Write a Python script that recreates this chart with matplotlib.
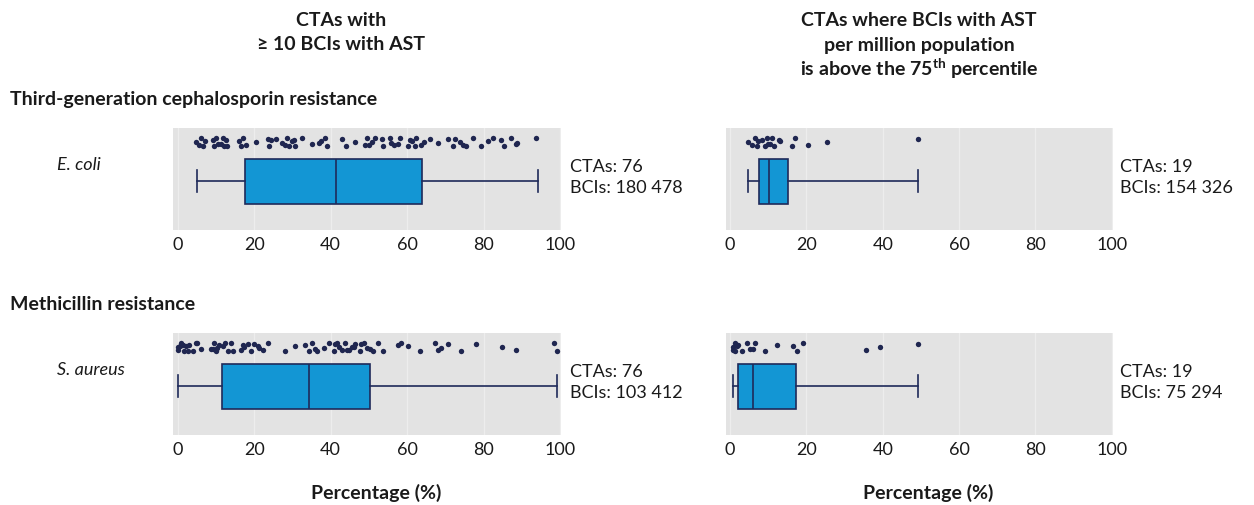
import numpy as np
import matplotlib
matplotlib.use('Agg')
import matplotlib.pyplot as plt

plt.rcParams['font.family'] = ['Lato', 'DejaVu Sans']
plt.rcParams['mathtext.fontset'] = 'custom'
plt.rcParams['mathtext.rm'] = 'Lato'
plt.rcParams['mathtext.bf'] = 'Lato:bold'

# box summaries (whisker low, q1, median, q3, whisker high), percent resistant
ecoli_all_stats = [5.0, 17.5, 41.4, 64.0, 94.2]
ecoli_top_stats = [4.8, 7.6, 10.1, 15.2, 49.3]
saureus_all_stats = [0.0, 11.6, 34.3, 50.2, 99.2]
saureus_top_stats = [0.8, 2.1, 6.0, 17.3, 49.3]

# per-CTA percentages
ecoli_all = [4.8, 5.5, 6.1, 6.6, 7.2, 9.2, 9.6, 10.0, 10.5, 11.3, 11.8, 12.2, 12.6,
             16.1, 16.5, 17.0, 17.8, 20.4, 23.5, 23.9, 25.6, 27.4, 28.2, 28.7, 29.1,
             30.0, 30.4, 30.8, 32.6, 35.2, 36.9, 38.6, 39.0, 42.9, 46.4, 49.0, 49.4,
             49.9, 50.7, 53.3, 53.6, 55.5, 55.9, 57.7, 58.1, 60.3, 60.7, 61.2, 62.0,
             62.4, 63.7, 68.1, 70.6, 71.9, 72.4, 73.7, 74.5, 77.1, 79.3, 81.0, 84.5,
             85.4, 87.1, 88.4, 88.8, 93.6, 13.0, 24.3, 37.5, 44.0, 51.5, 56.5, 64.5,
             66.0, 75.5, 82.5]
ecoli_top = [4.8, 5.7, 6.6, 7.0, 7.4, 8.5, 9.2, 9.6, 10.0, 10.5, 10.9, 11.4, 12.7,
             13.1, 16.2, 17.0, 20.5, 25.5, 49.3]
saureus_all = [0.0, 0.1, 1.0, 1.8, 2.3, 3.1, 4.0, 4.8, 6.1, 8.7, 9.6, 10.0, 10.9,
               11.8, 13.1, 13.9, 16.5, 17.4, 18.3, 19.1, 20.0, 21.3, 22.2, 23.5, 28.2,
               30.8, 33.4, 34.3, 35.2, 36.0, 38.2, 39.5, 40.8, 41.2, 42.1, 42.9, 43.8,
               44.7, 45.5, 46.4, 47.7, 48.6, 49.4, 50.3, 52.5, 53.8, 57.7, 60.3, 63.3,
               67.2, 68.1, 68.9, 70.6, 74.1, 78.0, 84.9, 88.4, 98.4, 99.2, 0.5, 1.4,
               2.7, 5.2, 9.2, 10.4, 12.5, 14.5, 17.0, 21.0, 36.5, 41.6, 44.2, 46.0,
               48.0, 51.0, 58.5]
saureus_top = [0.8, 0.9, 1.2, 1.3, 1.7, 2.2, 3.1, 4.4, 5.2, 6.1, 6.6, 9.2, 12.2,
               16.6, 17.5, 19.2, 35.5, 39.3, 49.3]

panel_ctas = ['CTAs: 76', 'CTAs: 19', 'CTAs: 76', 'CTAs: 19']
panel_bcis = ['BCIs: 180 478', 'BCIs: 154 326', 'BCIs: 103 412', 'BCIs: 75 294']

W, H = 1254, 505
BOX = '#1396d4'
NAVY = '#1f2a5a'
DOT = '#1f2650'
TXT = '#1a1a1a'
FS = 13
FSB = 14

fig = plt.figure(figsize=(W / 100, H / 100), dpi=100)


def add_panel(left, right, top, bottom, xlim, st, dots, ctas, bcis, tx):
    ax = fig.add_axes([left / W, 1 - bottom / H, (right - left) / W, (bottom - top) / H])
    ax.set_facecolor('#e3e3e3')
    stats = dict(whislo=st[0], q1=st[1], med=st[2], q3=st[3], whishi=st[4], fliers=[])
    ax.bxp([stats], positions=[53], widths=45, orientation='horizontal',
           patch_artist=True, showfliers=False,
           boxprops=dict(facecolor=BOX, edgecolor=NAVY, lw=1.2),
           medianprops=dict(color=NAVY, lw=1.2),
           whiskerprops=dict(color=NAVY, lw=1.2),
           capprops=dict(color=NAVY, lw=1.2))
    n = len(dots)
    jit = 14 + 4.5 * np.sin(np.arange(n) * 2.4)
    ax.scatter(dots, jit, s=15, color=DOT, zorder=3, linewidths=0)
    ax.set_xlim(xlim)
    ax.set_ylim(102, 0)
    ax.set_xticks(range(0, 101, 20))
    ax.set_yticks([])
    ax.grid(axis='x', color='#ededed', lw=1)
    ax.set_axisbelow(True)
    ax.tick_params(length=0, labelsize=FS, pad=5, colors=TXT)
    for s in ax.spines.values():
        s.set_visible(False)
    ymid = (top + bottom) / 2
    fig.text(tx / W, 1 - (ymid - 12) / H, ctas, fontsize=FS, color=TXT, va='center')
    fig.text(tx / W, 1 - (ymid + 9) / H, bcis, fontsize=FS, color=TXT, va='center')
    return ax


add_panel(173, 561, 128, 230, (-1.2, 100.2), ecoli_all_stats, ecoli_all,
          panel_ctas[0], panel_bcis[0], 570)
add_panel(726, 1113, 128, 230, (-1.05, 100.3), ecoli_top_stats, ecoli_top,
          panel_ctas[1], panel_bcis[1], 1120)
add_panel(173, 561, 333, 435, (-1.2, 100.2), saureus_all_stats, saureus_all,
          panel_ctas[2], panel_bcis[2], 570)
add_panel(726, 1113, 333, 435, (-1.05, 100.3), saureus_top_stats, saureus_top,
          panel_ctas[3], panel_bcis[3], 1120)


def ftxt(x, y, s, **kw):
    fig.text(x / W, 1 - y / H, s, color=TXT, va='center', **kw)


ftxt(341, 20, 'CTAs with', fontsize=FSB, fontweight='bold', ha='center')
ftxt(341, 44, '≥ 10 BCIs with AST', fontsize=FSB, fontweight='bold', ha='center')
ftxt(919, 20, 'CTAs where BCIs with AST', fontsize=FSB, fontweight='bold', ha='center')
ftxt(919, 45, 'per million population', fontsize=FSB, fontweight='bold', ha='center')
ftxt(919, 69, r'is above the 75$^{\mathbf{th}}$ percentile', fontsize=FSB,
     fontweight='bold', ha='center')

ftxt(10, 100, 'Third-generation cephalosporin resistance', fontsize=FSB, fontweight='bold')
ftxt(10, 305, 'Methicillin resistance', fontsize=FSB, fontweight='bold')
ftxt(57, 165, 'E. coli', fontsize=FS, style='italic')
ftxt(57, 370, 'S. aureus', fontsize=FS, style='italic')

ftxt(376, 493, 'Percentage (%)', fontsize=FSB, fontweight='bold', ha='center')
ftxt(928, 493, 'Percentage (%)', fontsize=FSB, fontweight='bold', ha='center')

fig.savefig('out.png', dpi=100)
